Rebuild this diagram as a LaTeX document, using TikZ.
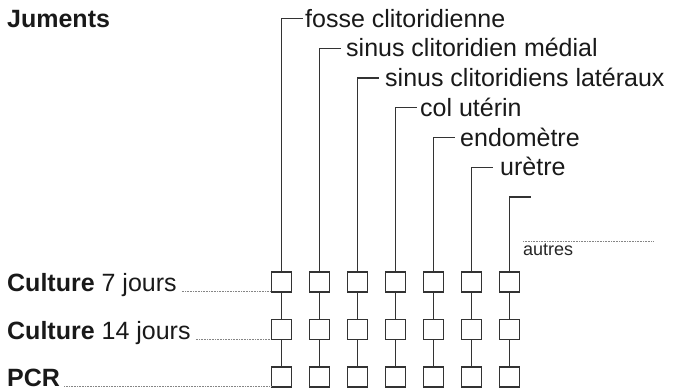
\documentclass[tikz,border=0pt]{standalone}
\usepackage{fontspec}
\setmainfont{Liberation Sans}
\definecolor{ink}{HTML}{333333}
\definecolor{lead}{HTML}{858585}
\begin{document}
\begin{tikzpicture}[x=1pt,y=-1pt,
  lab/.style={font=\fontsize{25}{30}\selectfont, inner sep=0pt, anchor=base west, text=black!90},
  sm/.style={font=\fontsize{18}{22}\selectfont, inner sep=0pt, anchor=base west, text=black!85},
  cell/.style={draw=ink, line width=1.4pt, minimum size=20pt, inner sep=0pt},
  wire/.style={draw=ink, line width=1.4pt, line join=miter},
  leader/.style={draw=lead, line width=1pt, dash pattern=on 1pt off 0.6pt}]
\useasboundingbox (0,0) rectangle (675,389);

% left labels
\node[lab] (jum) at (7,27) {\textbf{Juments}};
\node[lab] (c7)  at (7,291.5) {\textbf{Culture} 7 jours};
\node[lab] (c14) at (7,339) {\textbf{Culture} 14 jours};
\node[lab] (pcr) at (7,386) {\textbf{PCR}};

% columns
\foreach \i in {1,...,7}{
  \pgfmathsetmacro{\cx}{281.5+38*(\i-1)}
  \pgfmathsetmacro{\ty}{18.5+29.75*(\i-1)}
  \node[cell] (b\i a) at (\cx,282) {};
  \node[cell] (b\i b) at (\cx,329.5) {};
  \node[cell] (b\i c) at (\cx,377) {};
  \coordinate (t\i) at (\cx,\ty);
  \coordinate (e\i) at (\cx+21,\ty);
  \draw[wire] (e\i) -- (t\i) -- (b\i a.north);
  \draw[wire] (b\i a) -- (b\i b);
  \draw[wire] (b\i b) -- (b\i c);
}

% column labels
\node[lab] (l1) at (305,27)    {fosse clitoridienne};
\node[lab] (l2) at (346,56.75) {sinus clitoridien médial};
\node[lab] (l3) at (385,86.5)  {sinus clitoridiens latéraux};
\node[lab] (l4) at (420,116.25){col utérin};
\node[lab] (l5) at (460,146)   {endomètre};
\node[lab] (l6) at (500,175.75){urètre};

% autres
\coordinate (au1) at (523,241);
\coordinate (au2) at (653,241);
\draw[leader] (au1) -- (au2);
\node[sm] (aut) at (523,255) {autres};

% leaders
\draw[leader] ([xshift=5pt]c7.base east) -- (c7.base east -| b1a.west);
\draw[leader] ([xshift=5pt]c14.base east) -- (c14.base east -| b1b.west);
\draw[leader] ([xshift=4pt]pcr.base east) -- (pcr.base east -| b1c.west);
\end{tikzpicture}
\end{document}
